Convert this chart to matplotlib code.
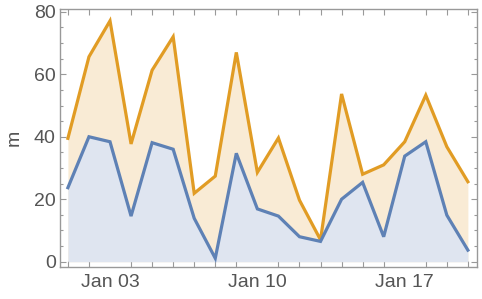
import matplotlib
matplotlib.use("Agg")
import matplotlib.pyplot as plt
from matplotlib.ticker import MultipleLocator, FixedLocator

# day of month, Jan 01 .. Jan 20
days = list(range(1, 21))
lower = [23.7, 40.0, 38.4, 14.6, 38.1, 36.0, 13.9, 1.1, 34.7, 16.9,
         14.6, 8.0, 6.5, 20.0, 25.4, 8.0, 33.8, 38.4, 14.9, 3.7]
upper = [39.5, 65.6, 77.1, 37.7, 61.3, 72.0, 21.9, 27.4, 67.0, 28.6,
         39.6, 19.7, 7.0, 53.7, 28.0, 31.0, 38.4, 53.3, 36.8, 25.6]
tick_days = [3, 10, 17]
tick_labels = ["Jan 03", "Jan 10", "Jan 17"]

orange = "#E19C24"
blue = "#5E81B5"
grey = "#999999"
text_grey = "#555555"

plt.rcParams["font.family"] = ["Liberation Sans", "DejaVu Sans"]

fig = plt.figure(figsize=(4.82, 2.99), dpi=100)
ax = fig.add_axes([0.1245, 0.108, 0.865, 0.863])

ax.fill_between(days, 0, upper, color="#F9EBD5", linewidth=0, zorder=1)
ax.fill_between(days, 0, lower, color="#DFE5F0", linewidth=0, zorder=2)
ax.plot(days, upper, color=orange, lw=2.3, zorder=3, solid_joinstyle="miter")
ax.plot(days, lower, color=blue, lw=2.3, zorder=4, solid_joinstyle="miter")

ax.set_xlim(0.625, 20.43)
ax.set_ylim(-1.6, 81)

ax.xaxis.set_major_locator(FixedLocator(tick_days))
ax.set_xticklabels(tick_labels)
ax.xaxis.set_minor_locator(FixedLocator(days))
ax.yaxis.set_major_locator(MultipleLocator(20))
ax.yaxis.set_minor_locator(MultipleLocator(5))

for s in ax.spines.values():
    s.set_color(grey)
    s.set_linewidth(1.0)

ax.tick_params(which="both", direction="in", top=True, right=True,
               color=grey, labelcolor=text_grey, labelsize=14, width=0.8)
ax.tick_params(which="major", length=4, pad=3)
ax.tick_params(which="minor", length=2.5)
ax.tick_params(axis="x", which="major", length=0, pad=5)
ax.tick_params(axis="x", which="minor", length=4)

ax.set_ylabel("m", color=text_grey, fontsize=14, labelpad=8)

fig.savefig("out.png", dpi=100)
